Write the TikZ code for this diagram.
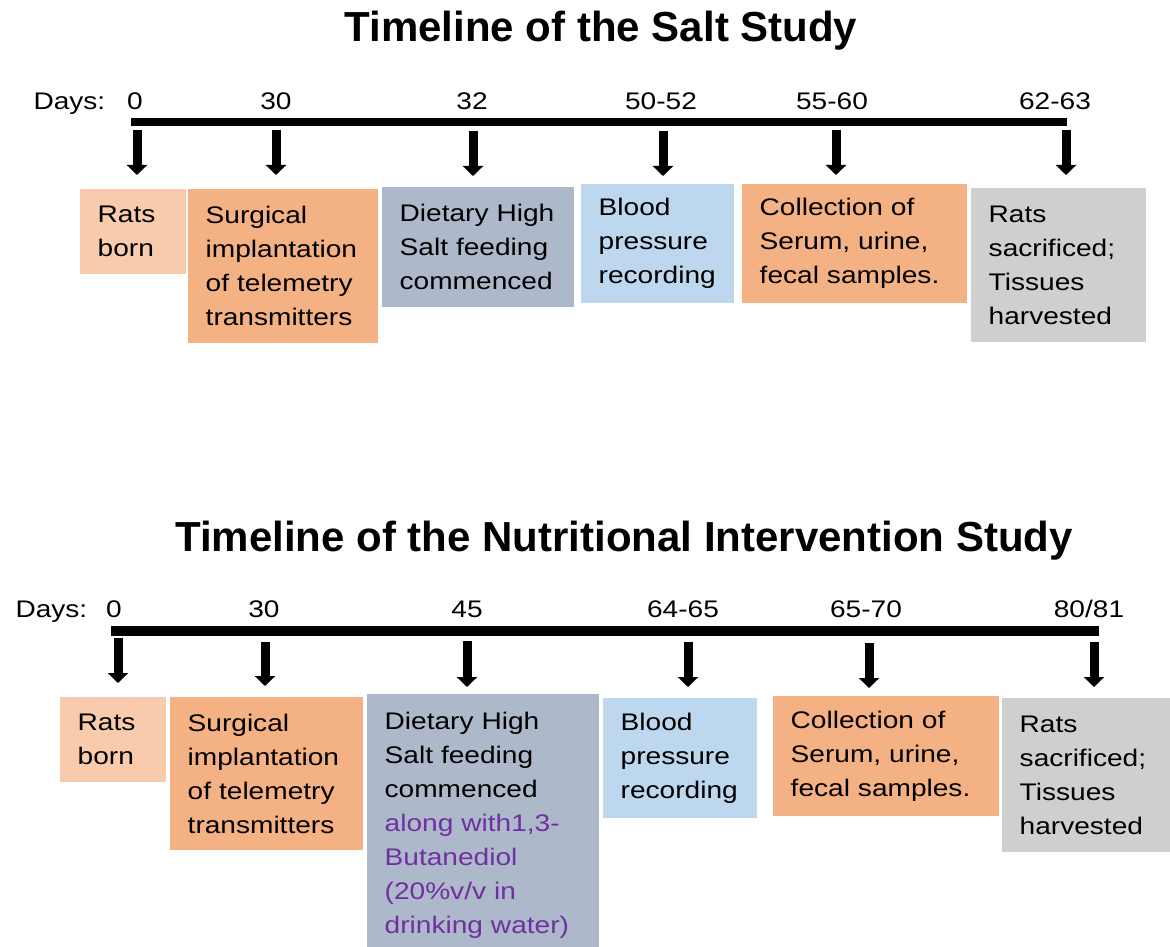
\documentclass[tikz,border=0pt]{standalone}
\usepackage{fontspec}
\setmainfont{Liberation Sans}
\newfontfamily\bodyfont[FakeStretch=1.17]{Liberation Sans}
\usetikzlibrary{arrows.meta}
\definecolor{bornpink}{HTML}{F8CBAD}
\definecolor{surgorange}{HTML}{F4B183}
\definecolor{dietgray}{HTML}{ADB9CA}
\definecolor{bpblue}{HTML}{BDD7EE}
\definecolor{endgray}{HTML}{D0CECE}
\definecolor{addpurple}{HTML}{7030A0}

\begin{document}
\begin{tikzpicture}[x=1pt, y=-1pt,
    heading/.style={anchor=base, font=\bfseries\fontsize{42}{48}\selectfont},
    day/.style={anchor=base, font=\bodyfont\fontsize{24}{34}\selectfont},
    evbox/.style 2 args={anchor=north west, align=left, inner xsep=17.5pt, inner ysep=3pt,
        text width=#1, minimum height=#2, font=\bodyfont\fontsize{24}{34}\selectfont},
    timebar/.style={line width=#1},
    dayarrow/.style={line width=9pt, -{Triangle[width=20pt,length=10pt]}}]
    \useasboundingbox (0,0) rectangle (1170,947);
    \fill[white] (0,0) rectangle (1170,947);
    \clip (0,0) rectangle (1170,947);

    % salt study
    \node[heading] (stitle) at (601,42) {Timeline of the Salt Study};
    \node[day, anchor=base west] (sdays) at (30,110) {Days:};
    \node[day] (sd1) at (135,110) {0};
    \node[day] (sd2) at (276,110) {30};
    \node[day] (sd3) at (472,110) {32};
    \node[day] (sd4) at (661,110) {50-52};
    \node[day] (sd5) at (832,110) {55-60};
    \node[day] (sd6) at (1055,110) {62-63};
    \coordinate (sl) at (131,122);
    \coordinate (sr) at (1067,122);
    \draw[timebar=8pt] (sl) -- (sr);

    \coordinate (sa1) at (137,130);
    \coordinate (sa2) at (276,130);
    \coordinate (sa3) at (473,131);
    \coordinate (sa4) at (663,131);
    \coordinate (sa5) at (836,130);
    \coordinate (sa6) at (1066,130);
    \draw[dayarrow] (sa1) -- ++(0,45);
    \draw[dayarrow] (sa2) -- ++(0,45);
    \draw[dayarrow] (sa3) -- ++(0,45);
    \draw[dayarrow] (sa4) -- ++(0,45);
    \draw[dayarrow] (sa5) -- ++(0,45);
    \draw[dayarrow] (sa6) -- ++(0,45);

    \node[evbox={71pt}{85pt}, fill=bornpink] (sb1) at (80,189) {Rats\\born};
    \node[evbox={155pt}{154pt}, fill=surgorange] (sb2) at (188,189) {Surgical\\implantation\\of telemetry\\transmitters};
    \node[evbox={157pt}{120pt}, fill=dietgray] (sb3) at (382,187) {Dietary High\\Salt feeding\\commenced};
    \node[evbox={118pt}{119pt}, fill=bpblue] (sb4) at (581,184) {Blood\\pressure\\recording};
    \node[evbox={190pt}{119pt}, fill=surgorange] (sb5) at (742,184) {Collection of\\Serum, urine,\\fecal samples.};
    \node[evbox={140pt}{154pt}, fill=endgray] (sb6) at (971,188) {Rats\\sacrificed;\\Tissues\\harvested};

    % nutritional intervention study
    \node[heading] (ntitle) at (624,551) {Timeline of the Nutritional Intervention Study};
    \node[day, anchor=base west] (ndays) at (12,617) {Days:};
    \node[day] (nd1) at (114,617) {0};
    \node[day] (nd2) at (264,617) {30};
    \node[day] (nd3) at (467,617) {45};
    \node[day] (nd4) at (683,617) {64-65};
    \node[day] (nd5) at (866,617) {65-70};
    \node[day] (nd6) at (1089,617) {80/81};
    \coordinate (nl) at (111,631);
    \coordinate (nr) at (1099,631);
    \draw[timebar=10pt] (nl) -- (nr);

    \coordinate (na1) at (118,638);
    \coordinate (na2) at (265,642);
    \coordinate (na3) at (467,641);
    \coordinate (na4) at (688,642);
    \coordinate (na5) at (869,643);
    \coordinate (na6) at (1094,642);
    \draw[dayarrow] (na1) -- ++(0,45);
    \draw[dayarrow] (na2) -- ++(0,44);
    \draw[dayarrow] (na3) -- ++(0,46);
    \draw[dayarrow] (na4) -- ++(0,45);
    \draw[dayarrow] (na5) -- ++(0,45);
    \draw[dayarrow] (na6) -- ++(0,45);

    \node[evbox={71pt}{85pt}, fill=bornpink] (nb1) at (60,697) {Rats\\born};
    \node[evbox={158pt}{153pt}, fill=surgorange] (nb2) at (170,697) {Surgical\\implantation\\of telemetry\\transmitters};
    \node[evbox={197pt}{262pt}, fill=dietgray] (nb3) at (367,694) {Dietary High\\Salt feeding\\commenced\\
        \textcolor{addpurple}{along with1,3-}\\\textcolor{addpurple}{Butanediol}\\
        \textcolor{addpurple}{(20\%v/v in}\\\textcolor{addpurple}{drinking water)}};
    \node[evbox={119pt}{120pt}, fill=bpblue] (nb4) at (603,698) {Blood\\pressure\\recording};
    \node[evbox={191pt}{120pt}, fill=surgorange] (nb5) at (773,696) {Collection of\\Serum, urine,\\fecal samples.};
    \node[evbox={135pt}{154pt}, fill=endgray] (nb6) at (1002,698) {Rats\\sacrificed;\\Tissues\\harvested};
\end{tikzpicture}
\end{document}
